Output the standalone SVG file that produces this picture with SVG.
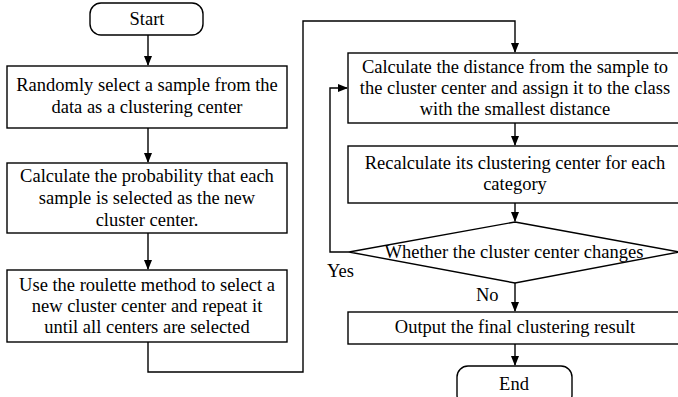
<svg xmlns="http://www.w3.org/2000/svg" width="678" height="397" viewBox="0 0 678 397">
<style>
.box{fill:#fff;stroke:#000;stroke-width:1.4}
.ln{fill:none;stroke:#000;stroke-width:1.4}
text{font-family:"Liberation Serif","Times New Roman",serif;font-size:18.5px;fill:#000;text-anchor:middle}
.l{text-anchor:start}
</style>
<defs>
<marker id="ah" markerWidth="10" markerHeight="10" refX="9" refY="5" orient="auto" markerUnits="userSpaceOnUse">
<path d="M0,1 L10,5 L0,9 Z" fill="#000"/>
</marker>
</defs>
<g id="connectors">
<line class="ln" x1="148" y1="35" x2="148" y2="65" marker-end="url(#ah)"/>
<line class="ln" x1="148" y1="128" x2="148" y2="162" marker-end="url(#ah)"/>
<line class="ln" x1="148" y1="233" x2="148" y2="269" marker-end="url(#ah)"/>
<polyline class="ln" points="148,342 148,372 303,372 303,21 515,21 515,52" marker-end="url(#ah)"/>
<line class="ln" x1="515" y1="123" x2="515" y2="145" marker-end="url(#ah)"/>
<line class="ln" x1="515" y1="203" x2="515" y2="221" marker-end="url(#ah)"/>
<polyline class="ln" points="349,252 330,252 330,88 347,88" marker-end="url(#ah)"/>
<line class="ln" x1="515" y1="283" x2="515" y2="311" marker-end="url(#ah)"/>
<line class="ln" x1="515" y1="344" x2="515" y2="365" marker-end="url(#ah)"/>
<text class="l" x="327" y="277">Yes</text>
<text class="l" x="476" y="301">No</text>
</g>
<g id="start">
<rect class="box" x="90" y="3" width="113" height="32" rx="11"/>
<text x="147" y="25">Start</text>
</g>
<g id="step1">
<rect class="box" x="7" y="66" width="280" height="62"/>
<text x="147" y="91">Randomly select a sample from the</text>
<text x="147" y="113">data as a clustering center</text>
</g>
<g id="step2">
<rect class="box" x="7" y="163" width="280" height="70"/>
<text x="147" y="182">Calculate the probability that each</text>
<text x="147" y="204">sample is selected as the new</text>
<text x="147" y="226">cluster center.</text>
</g>
<g id="step3">
<rect class="box" x="7" y="270" width="280" height="72"/>
<text x="147" y="291">Use the roulette method to select a</text>
<text x="147" y="312">new cluster center and repeat it</text>
<text x="147" y="333">until all centers are selected</text>
</g>
<g id="assign">
<rect class="box" x="348" y="53" width="334" height="70"/>
<text x="515" y="73">Calculate the distance from the sample to</text>
<text x="515" y="94">the cluster center and assign it to the class</text>
<text x="515" y="115">with the smallest distance</text>
</g>
<g id="recalc">
<rect class="box" x="348" y="146" width="334" height="57"/>
<text x="515" y="169">Recalculate its clustering center for each</text>
<text x="515" y="190">category</text>
</g>
<g id="decision">
<polygon class="box" points="515,222 679,252 515,283 349,252"/>
<text x="514" y="258">Whether the cluster center changes</text>
</g>
<g id="output">
<rect class="box" x="348" y="312" width="334" height="32"/>
<text x="515" y="333">Output the final clustering result</text>
</g>
<g id="end">
<rect class="box" x="457" y="366" width="115" height="40" rx="11"/>
<text x="514" y="390">End</text>
</g>
</svg>
